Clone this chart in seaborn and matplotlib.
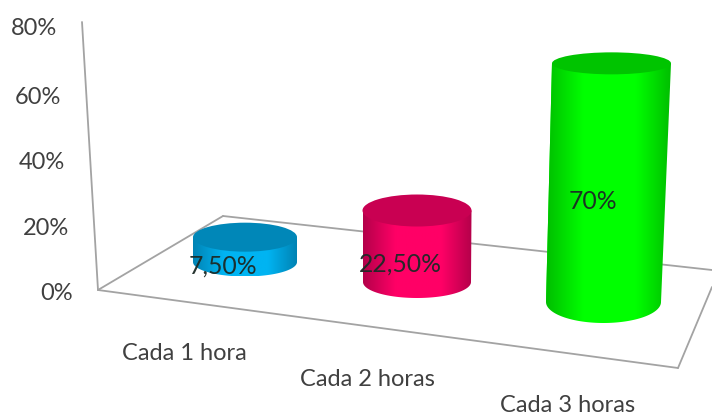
import numpy as np
import pandas as pd
import matplotlib
matplotlib.use("Agg")
import matplotlib.pyplot as plt
from matplotlib.colors import LinearSegmentedColormap
from matplotlib.patches import Ellipse, PathPatch
from matplotlib.path import Path
import seaborn as sns

# ---- data ----
categories = ["Cada 1 hora", "Cada 2 horas", "Cada 3 horas"]
values = [7.5, 22.5, 70]
value_labels = ["7,50%", "22,50%", "70%"]
tick_values = [0, 20, 40, 60, 80]
tick_labels = ["0%", "20%", "40%", "60%", "80%"]

# ---- colours ----
side_edge = ["#0083B4", "#B4004A", "#00BE00"]
side_mid = ["#00B4F2", "#FF0066", "#00FF00"]
top_col = ["#0087B8", "#C90052", "#00C400"]
text_col = "#404040"
label_col = "#1c2a26"
line_col = "#a3a3a3"

# ---- 3D layout (pixel space of a 712x416 canvas) ----
W, H = 712, 416
ZERO_PX, PX_PER_PCT = 290.0, 3.31


def pct(px):
    return (ZERO_PX - px) / PX_PER_PCT


base_x = [245, 417, 603.5]
base_y_px = [262, 282, 302]
base_w = [104, 108, 115]
top_w = [104, 109, 119]
top_dx = [0, 0, 8]
scale = [1.0, 0.96, 1.03]
base_b = [14.5, 16, 21]
top_b = [14.5, 16, 11]
label_dx = [-22, -17, -15]
label_dy = [16, 18, 19]
tick_nudge = [4, 5, 5, 6, 3]
cat_pos = [(184, 354), (367, 380), (568, 405)]

sns.set_theme(style="white")
plt.rcParams["font.family"] = ["Lato", "DejaVu Sans"]
fig = plt.figure(figsize=(W / 100, H / 100), dpi=100, facecolor="white")
ax = fig.add_axes([0, 0, 1, 1])

# floor and wall lines
frame = [[(82, 22), (98, 290)], [(98, 290), (678, 368)], [(678, 368), (712, 287)],
         [(98, 290), (223, 216)], [(223, 216), (712, 270)]]
for (x0, y0), (x1, y1) in frame:
    ax.plot([x0, x1], [pct(y0), pct(y1)], color=line_col, lw=1.3, zorder=1)

theta = np.linspace(0, np.pi, 80)
for i, cat in enumerate(categories):
    df = pd.DataFrame({"x": [base_x[i]], "v": [values[i] * scale[i]]})
    n = len(ax.patches)
    sns.barplot(data=df, x="x", y="v", native_scale=True, width=base_w[i],
                color=side_mid[i], saturation=1, bottom=pct(base_y_px[i]),
                linewidth=0, ax=ax, zorder=2, errorbar=None)
    bar = ax.patches[n]
    cx = bar.get_x() + bar.get_width() / 2
    y0 = bar.get_y()
    y1 = y0 + bar.get_height()
    a0, a1 = base_w[i] / 2, top_w[i] / 2
    tx = cx + top_dx[i]
    b0, b1 = base_b[i] / PX_PER_PCT, top_b[i] / PX_PER_PCT
    # cylinder outline: front bottom arc, then up the right side and back
    xs = np.r_[cx - a0 * np.cos(theta), tx + a1, tx - a1]
    ys = np.r_[y0 - b0 * np.sin(theta), y1, y1]
    outline = PathPatch(Path(np.c_[xs, ys]), transform=ax.transData,
                        facecolor="none", edgecolor="none")
    ax.add_patch(outline)
    bar.set_clip_path(outline)
    cmap = LinearSegmentedColormap.from_list(
        "c", [(0, side_edge[i]), (0.3, side_mid[i]), (0.72, side_mid[i]), (1, side_edge[i])])
    left, right = min(cx - a0, tx - a1), max(cx + a0, tx + a1)
    im = ax.imshow(np.linspace(0, 1, 256)[None, :], cmap=cmap, aspect="auto",
                   extent=(left, right, y0 - b0, y1), zorder=3)
    im.set_clip_path(outline)
    ax.add_patch(Ellipse((tx, y1), 2 * a1, 2 * b1, facecolor=top_col[i],
                         edgecolor="none", zorder=4))
    mid = (y0 + y1) / 2
    ax.text(cx + label_dx[i] + top_dx[i] / 2, mid - label_dy[i] / PX_PER_PCT, value_labels[i],
            ha="center", va="center", fontsize=17.8, color=label_col, alpha=0.95, zorder=6)
    ax.text(cat_pos[i][0], pct(cat_pos[i][1]), cat, ha="center", va="center",
            fontsize=17, color=text_col)

for v, lab, nudge in zip(tick_values, tick_labels, tick_nudge):
    ax.text(98 - v / 80 * 16 - 25, v - nudge / PX_PER_PCT, lab, ha="right", va="center",
            fontsize=17, color=text_col)

ax.set_xlim(0, W)
ax.set_ylim(pct(H), pct(0))
ax.set_xlabel("")
ax.set_ylabel("")
ax.axis("off")
fig.savefig("out.png", dpi=100, facecolor="white")
